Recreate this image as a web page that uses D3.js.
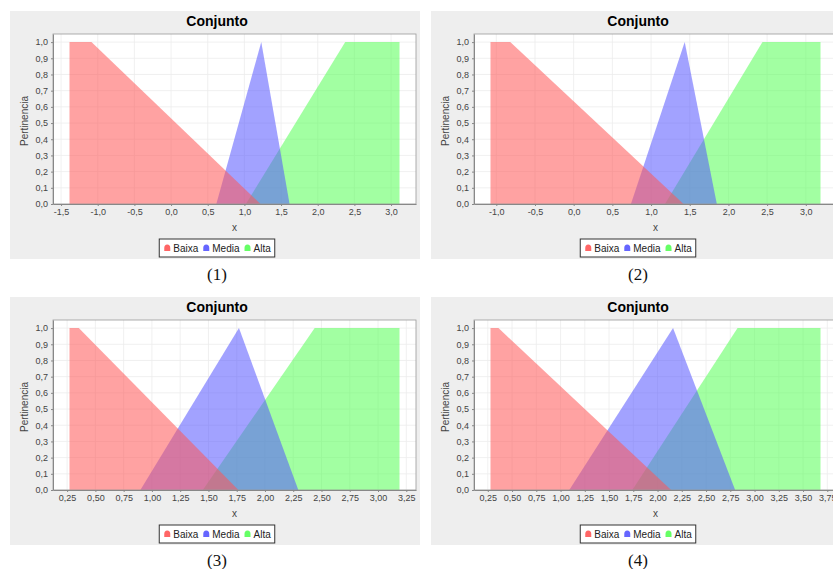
<!DOCTYPE html>
<html>
<head>
<meta charset="utf-8">
<script src="https://cdn.jsdelivr.net/npm/d3@7"></script>
<style>
  body { margin: 0; background: #fff; }
  svg { display: block; font-family: "Liberation Sans", Arial, sans-serif; }
</style>
</head>
<body>
<svg width="833" height="569"></svg>
<script>
// series names + colours (JFreeChart defaults)
const seriesNames = ["Baixa", "Media", "Alta"];
const seriesColors = ["rgb(255,85,85)", "rgb(85,85,255)", "rgb(85,255,85)"];

// membership functions, one entry per panel: [x, pertinencia]
const baixa = [
  [[-1.385, 0], [-1.385, 1], [-1.086, 1], [1.22, 0]],
  [[-1.075, 0], [-1.075, 1], [-0.82, 1], [1.42, 0]],
  [[0.271, 0], [0.271, 1], [0.353, 1], [1.765, 0]],
  [[0.278, 0], [0.278, 1], [0.36, 1], [2.14, 0]]
];
const media = [
  [[0.617, 0], [1.23, 1], [1.616, 0]],
  [[0.74, 0], [1.435, 1], [1.85, 0]],
  [[0.898, 0], [1.77, 1], [2.295, 0]],
  [[1.09, 0], [2.16, 1], [2.80, 0]]
];
const alta = [
  [[1.02, 0], [2.375, 1], [3.115, 1], [3.115, 0]],
  [[1.18, 0], [2.44, 1], [3.19, 1], [3.19, 0]],
  [[1.45, 0], [2.44, 1], [3.19, 1], [3.19, 0]],
  [[1.74, 0], [2.825, 1], [3.68, 1], [3.68, 0]]
];

// tick labels
const xTicks = [
  [-1.5, -1.0, -0.5, 0, 0.5, 1.0, 1.5, 2.0, 2.5, 3.0],
  [-1.0, -0.5, 0, 0.5, 1.0, 1.5, 2.0, 2.5, 3.0],
  [0.25, 0.5, 0.75, 1.0, 1.25, 1.5, 1.75, 2.0, 2.25, 2.5, 2.75, 3.0, 3.25],
  [0.25, 0.5, 0.75, 1.0, 1.25, 1.5, 1.75, 2.0, 2.25, 2.5, 2.75, 3.0, 3.25, 3.5, 3.75]
];
const xDecimals = [1, 1, 2, 2];
const yTicks = [0, 0.1, 0.2, 0.3, 0.4, 0.5, 0.6, 0.7, 0.8, 0.9, 1.0];
const captions = ["(1)", "(2)", "(3)", "(4)"];

const panelPos = [[10, 11], [431, 11], [10, 297], [431, 297]];
const PW = 410, PH = 248;
const margin = { left: 43, top: 23 };
const plotW = 363, plotH = 170;

const loc = d3.formatLocale({ decimal: ",", thousands: ".", grouping: [3], currency: ["", ""], minus: "-" });

const svg = d3.select("svg");

panelPos.forEach((pos, i) => {
  const g = svg.append("g").attr("transform", `translate(${pos[0]},${pos[1]})`);

  g.append("rect").attr("width", PW).attr("height", PH).attr("fill", "#eeeeee");

  g.append("text")
    .attr("x", PW / 2 + 2).attr("y", 15)
    .attr("text-anchor", "middle")
    .attr("font-size", 14).attr("font-weight", "bold")
    .text("Conjunto");

  // x domain = data extent + 5% margin each side (like jfreechart)
  const allX = [].concat(baixa[i], media[i], alta[i]).map(d => d[0]);
  const ext = d3.extent(allX);
  const pad = (ext[1] - ext[0]) * 0.05;
  const x = d3.scaleLinear().domain([ext[0] - pad, ext[1] + pad]).range([0, plotW]);
  const y = d3.scaleLinear().domain([0, 1.05]).range([plotH, 0]);

  const plot = g.append("g").attr("transform", `translate(${margin.left},${margin.top})`);
  plot.append("rect").attr("width", plotW).attr("height", plotH).attr("fill", "#fff");

  // grid
  plot.selectAll(".gx").data(xTicks[i]).enter().append("line")
    .attr("x1", d => x(d)).attr("x2", d => x(d))
    .attr("y1", 0).attr("y2", plotH)
    .attr("stroke", "#ececec").attr("stroke-width", 0.8);
  plot.selectAll(".gy").data(yTicks).enter().append("line")
    .attr("x1", 0).attr("x2", plotW)
    .attr("y1", d => y(d)).attr("y2", d => y(d))
    .attr("stroke", "#ececec").attr("stroke-width", 0.8);

  // areas, reverse order so Baixa ends on top
  const line = d3.line().x(d => x(d[0])).y(d => y(d[1]));
  const series = [baixa[i], media[i], alta[i]];
  for (let s = series.length - 1; s >= 0; s--) {
    plot.append("path")
      .attr("d", line(series[s]) + "Z")
      .attr("fill", seriesColors[s])
      .attr("fill-opacity", 0.55);
  }

  plot.append("rect").attr("width", plotW).attr("height", plotH)
    .attr("fill", "none").attr("stroke", "#999").attr("stroke-width", 0.8);

  // axes
  const fx = loc.format(`.${xDecimals[i]}f`);
  const fy = loc.format(".1f");
  const xAxis = plot.append("g")
    .attr("transform", `translate(0,${plotH})`)
    .call(d3.axisBottom(x).tickValues(xTicks[i]).tickFormat(fx).tickSize(2).tickPadding(3).tickSizeOuter(0));
  const yAxis = plot.append("g")
    .call(d3.axisLeft(y).tickValues(yTicks).tickFormat(fy).tickSize(2).tickPadding(3).tickSizeOuter(0));
  [xAxis, yAxis].forEach(a => {
    a.select(".domain").attr("stroke", "#888");
    a.selectAll(".tick line").attr("stroke", "#888");
    a.selectAll("text").attr("font-size", 9).attr("fill", "#444").attr("font-family", "Liberation Sans, Arial, sans-serif");
  });

  g.append("text")
    .attr("x", margin.left + plotW / 2).attr("y", margin.top + plotH + 27)
    .attr("text-anchor", "middle").attr("font-size", 10).attr("fill", "#444")
    .text("x");
  g.append("text")
    .attr("transform", `translate(18,${margin.top + plotH / 2 + 2}) rotate(-90)`)
    .attr("text-anchor", "middle").attr("font-size", 10).attr("fill", "#444")
    .text("Pertinencia");

  // legend
  const leg = g.append("g").attr("transform", `translate(0,${228})`);
  const box = leg.append("rect").attr("y", 0).attr("height", 18)
    .attr("fill", "#fff").attr("stroke", "#333").attr("stroke-width", 1);
  let cx = 5;
  seriesNames.forEach((name, s) => {
    leg.append("path")
      .attr("d", `M${cx},12 L${cx},9 Q${cx},5.5 ${cx + 3},5.5 Q${cx + 6},5.5 ${cx + 6},9 L${cx + 6},12 Z`)
      .attr("fill", seriesColors[s]).attr("fill-opacity", 0.9);
    const t = leg.append("text").attr("x", cx + 9).attr("y", 13)
      .attr("font-size", 10).attr("fill", "#222").text(name);
    cx += 9 + t.node().getComputedTextLength() + 5;
  });
  const legW = cx - 1;
  box.attr("x", 0).attr("width", legW);
  leg.attr("transform", `translate(${(PW - legW) / 2 + 2},228)`);

  g.append("text")
    .attr("x", PW / 2 + 2).attr("y", 269)
    .attr("text-anchor", "middle")
    .attr("font-family", "Liberation Serif, Times New Roman, serif")
    .attr("font-size", 17).attr("fill", "#111")
    .text(captions[i]);
});
</script>
</body>
</html>
